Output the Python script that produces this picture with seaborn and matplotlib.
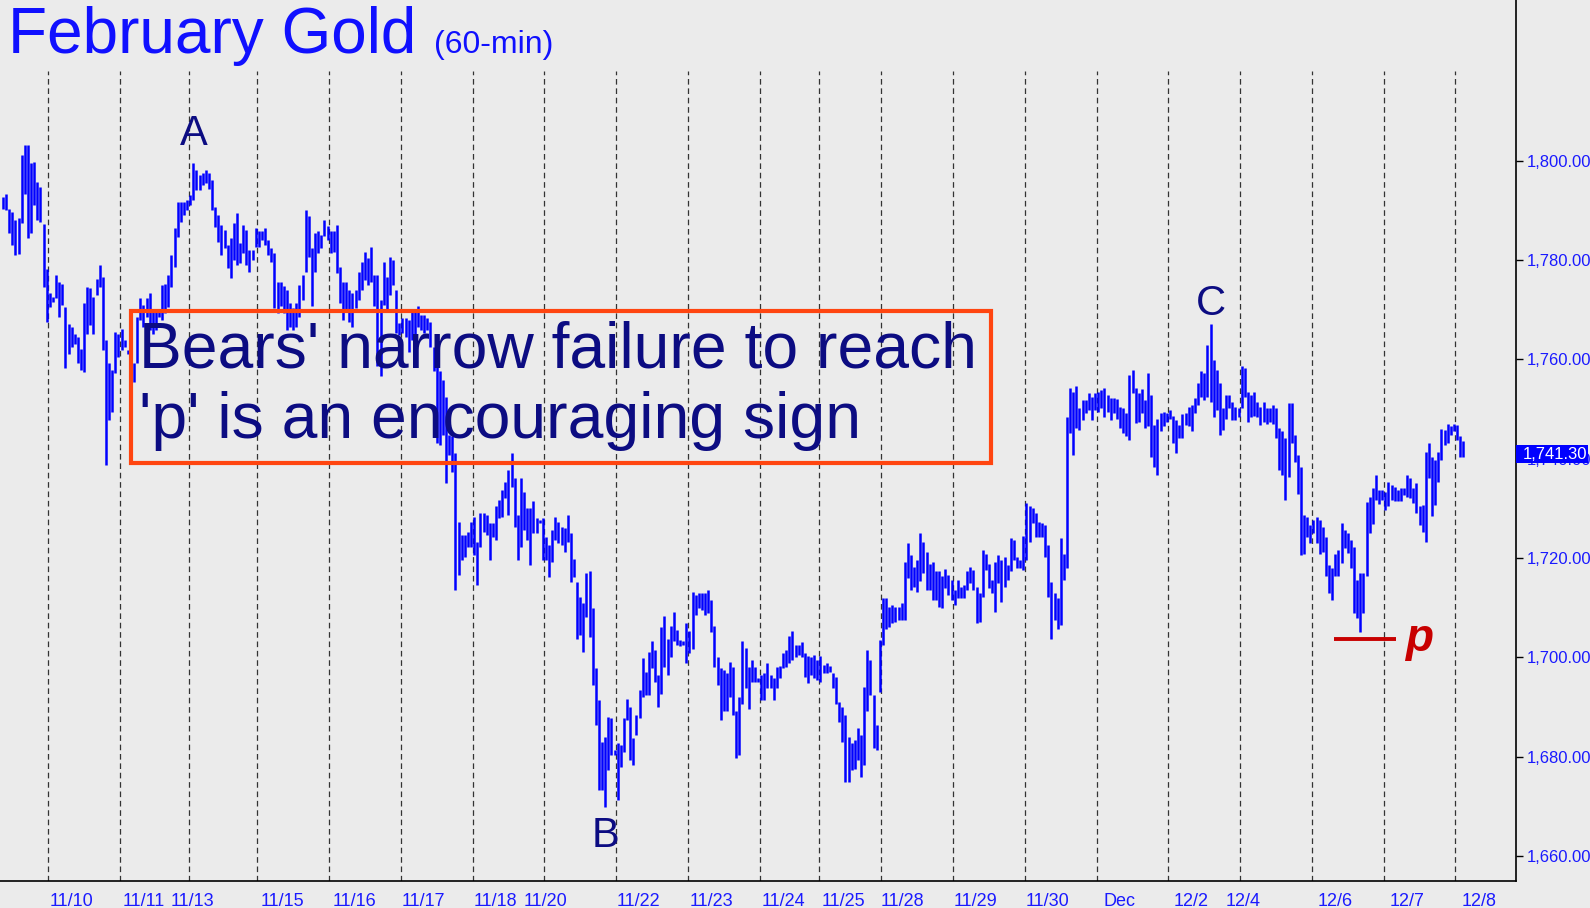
import matplotlib
matplotlib.use("Agg")
import matplotlib.pyplot as plt
import matplotlib.ticker as mticker
from matplotlib.patches import Rectangle
import matplotlib.transforms as mtrans
import numpy as np
import pandas as pd
import seaborn as sb

# hourly bars, February gold (high / low per bar)
bar_high = [
    1792.8, 1793.3, 1790.4, 1789.7, 1788.1, 1788.4, 1801.2, 1803.2, 1803.2, 1799.5,
    1799.8, 1795.8, 1794.8, 1787.2, 1778.3, 1773.3, 1772.6, 1777.0, 1775.6, 1775.3,
    1770.6, 1767.2, 1766.6, 1765.2, 1764.6, 1762.2, 1771.3, 1774.6, 1774.3, 1772.6,
    1776.3, 1779.1, 1776.7, 1763.9, 1759.2, 1757.8, 1765.6, 1765.2, 1766.2, 1763.9,
    1761.9, 1761.9, 1759.2, 1768.6, 1772.3, 1771.0, 1772.3, 1773.3, 1769.9, 1769.9,
    1769.9, 1775.0, 1775.3, 1777.0, 1781.0, 1786.4, 1791.8, 1791.8, 1791.8, 1792.1,
    1793.1, 1799.5, 1798.1, 1797.1, 1797.5, 1798.1, 1797.5, 1796.1, 1790.8, 1789.1,
    # 11/15 - 11/17
    1787.1, 1786.1, 1783.1, 1784.4, 1787.4, 1789.4, 1783.4, 1787.1, 1786.1, 1782.1,
    1782.1, 1786.4, 1785.8, 1785.8, 1786.4, 1784.1, 1782.4, 1781.4, 1775.7, 1775.7,
    1774.7, 1774.0, 1771.3, 1770.3, 1771.3, 1775.0, 1777.0, 1790.1, 1788.8, 1782.4,
    1785.4, 1785.8, 1785.1, 1788.1, 1786.8, 1785.8, 1785.8, 1787.1, 1778.7, 1775.7,
    1775.7, 1774.0, 1773.3, 1774.0, 1777.7, 1779.7, 1781.7, 1780.4, 1782.7, 1777.0,
    1777.0, 1772.0, 1779.7, 1776.7, 1780.7, 1780.1, 1774.0, 1767.3, 1768.3, 1768.3,
    1767.9, 1770.0, 1770.0, 1770.7, 1769.0, 1769.0, 1768.3, 1767.6, 1762.6, 1758.6,
    1757.6, 1755.9, 1752.5,
    # 11/18 - 11/22
    1744.8, 1744.5, 1741.1, 1727.3, 1724.7, 1724.7, 1725.3, 1727.3, 1728.3, 1723.3,
    1729.0, 1729.0, 1728.7, 1727.0, 1727.0, 1730.4, 1731.7, 1733.7, 1735.4, 1737.8,
    1741.1, 1736.1, 1728.7, 1736.1, 1733.4, 1730.0, 1730.0, 1731.4, 1728.0, 1727.7,
    1728.0, 1724.3, 1722.6, 1725.7, 1728.3, 1727.3, 1726.3, 1726.0, 1728.7, 1725.0,
    1719.9, 1715.2, 1712.2, 1710.9, 1716.9, 1717.3, 1709.9, 1697.8, 1691.4, 1683.0,
    1684.0, 1688.0, 1687.7, 1681.3, 1682.7, 1682.3, 1687.7, 1691.7, 1690.1, 1683.7,
    1688.4, 1693.4, 1699.8, 1697.1, 1701.1, 1703.2, 1701.5,
    # 11/22 - 11/25
    1696.4, 1706.2, 1708.3, 1703.8, 1706.3, 1709.2, 1705.5, 1703.5, 1703.2, 1706.9,
    1705.4, 1713.2, 1712.6, 1712.9, 1712.9, 1712.9, 1713.6, 1711.6, 1706.3, 1700.1,
    1697.8, 1697.5, 1696.8, 1699.1, 1698.1, 1689.1, 1692.1, 1703.3, 1701.8, 1698.1,
    1699.5, 1698.1, 1695.8, 1696.4, 1696.8, 1698.8, 1696.4, 1695.8, 1698.1, 1698.3,
    1700.9, 1701.5, 1704.3, 1705.3, 1702.5, 1702.5, 1703.0, 1700.8, 1700.2, 1700.1,
    1700.5, 1699.5, 1700.3, 1698.5, 1698.8, 1698.3, 1696.8, 1696.1, 1691.1, 1690.1,
    1688.4, 1684.0, 1682.7, 1683.4, 1685.7, 1684.3, 1694.1, 1701.5, 1699.5, 1692.4,
    1686.4,
    # 11/28 - 11/30
    1703.5, 1711.9, 1711.9, 1710.2, 1710.5, 1710.2, 1710.2, 1710.9, 1719.3, 1723.0,
    1720.6, 1718.3, 1719.6, 1725.0, 1723.3, 1721.3, 1718.9, 1719.3, 1717.3, 1717.3,
    1716.3, 1717.7, 1716.6, 1715.6, 1713.6, 1715.6, 1714.2, 1714.6, 1717.3, 1718.3,
    1717.6, 1714.2, 1712.9, 1721.6, 1720.9, 1718.8, 1715.6, 1719.3, 1720.6, 1719.6,
    1720.3, 1718.6, 1724.0, 1723.6, 1720.3, 1719.6, 1724.4, 1731.0, 1730.4, 1730.0,
    1729.0, 1727.3, 1727.0, 1726.7, 1722.6, 1715.2, 1712.9, 1711.9, 1724.0, 1720.9,
    1748.5, 1754.2, 1753.5, 1754.7, 1750.2, 1751.8, 1751.8, 1753.2, 1752.5, 1753.2,
    1753.5,
    # Dec - 12/4
    1753.9, 1754.2, 1752.9, 1752.2, 1752.2, 1752.0, 1750.5, 1750.2, 1749.2, 1756.9,
    1757.9, 1754.2, 1753.2, 1754.0, 1751.8, 1757.2, 1752.8, 1746.8, 1748.1, 1749.2,
    1749.5, 1749.2, 1749.8, 1748.6, 1747.8, 1746.8, 1749.0, 1749.2, 1750.5, 1750.8,
    1752.2, 1755.2, 1757.6, 1757.2, 1762.9, 1767.2, 1759.9, 1757.9, 1755.2, 1750.2,
    1752.8, 1752.8, 1751.5, 1750.5, 1750.2, 1758.6, 1758.2, 1753.5, 1752.8, 1753.5,
    1751.5, 1750.5, 1751.5, 1750.2, 1750.2, 1750.8, 1750.2, 1746.1, 1745.5, 1744.1,
    1751.2, 1751.2, 1744.8, 1740.8, 1738.4, 1728.7, 1728.3, 1726.7, 1727.7, 1728.3,
    1727.7,
    # 12/6 - 12/8
    1726.3, 1724.3, 1718.6, 1718.0, 1720.9, 1721.6, 1727.0, 1725.6, 1725.0, 1723.6,
    1722.3, 1715.6, 1716.9, 1716.9, 1731.3, 1732.4, 1734.1, 1736.7, 1733.7, 1733.7,
    1733.4, 1735.4, 1734.7, 1734.4, 1733.7, 1734.1, 1734.1, 1736.7, 1736.1, 1734.1,
    1735.1, 1730.4, 1730.7, 1741.4, 1743.1, 1740.4, 1739.8, 1741.4, 1745.9, 1745.8,
    1747.0, 1746.6, 1747.0, 1746.8, 1744.5, 1743.5,
]
bar_low = [
    1790.4, 1790.1, 1785.4, 1783.0, 1781.0, 1781.3, 1787.4, 1793.4, 1784.4, 1785.4,
    1791.1, 1788.1, 1787.7, 1774.6, 1767.6, 1770.6, 1771.6, 1772.3, 1768.6, 1770.9,
    1758.2, 1761.2, 1762.6, 1763.2, 1759.2, 1757.8, 1757.5, 1765.2, 1766.9, 1765.2,
    1773.0, 1774.6, 1761.9, 1738.7, 1747.8, 1749.5, 1757.2, 1760.5, 1761.9, 1762.6,
    1761.2, 1747.8, 1755.5, 1759.2, 1767.9, 1766.6, 1768.6, 1765.9, 1765.2, 1765.9,
    1768.6, 1767.9, 1769.3, 1770.6, 1774.6, 1778.7, 1784.7, 1787.7, 1789.1, 1790.1,
    1791.1, 1792.1, 1794.1, 1794.1, 1795.1, 1795.5, 1794.4, 1790.1, 1786.7, 1783.7,
    # 11/15 - 11/17
    1781.1, 1782.4, 1778.4, 1776.4, 1780.1, 1779.1, 1779.4, 1781.4, 1779.1, 1777.7,
    1780.1, 1782.7, 1782.7, 1784.1, 1783.1, 1781.1, 1779.7, 1770.3, 1769.3, 1770.7,
    1769.3, 1766.0, 1766.6, 1765.9, 1766.6, 1768.6, 1772.0, 1777.7, 1780.7, 1770.7,
    1777.7, 1781.4, 1782.4, 1784.8, 1784.1, 1781.4, 1781.7, 1777.4, 1771.3, 1768.0,
    1769.6, 1767.6, 1766.6, 1770.3, 1772.0, 1774.0, 1776.0, 1775.0, 1775.7, 1770.7,
    1758.6, 1756.6, 1771.0, 1770.0, 1773.0, 1775.0, 1765.3, 1764.9, 1765.3, 1764.6,
    1761.6, 1764.0, 1764.6, 1766.6, 1765.9, 1765.3, 1765.9, 1762.6, 1757.6, 1743.1,
    1742.8, 1744.8, 1735.1,
    # 11/18 - 11/22
    1740.8, 1737.4, 1713.6, 1716.6, 1719.6, 1720.3, 1722.3, 1722.3, 1720.6, 1714.6,
    1722.3, 1725.3, 1724.7, 1719.6, 1724.3, 1723.6, 1728.0, 1728.3, 1732.0, 1728.7,
    1734.4, 1726.3, 1719.6, 1722.3, 1725.7, 1723.6, 1718.6, 1725.0, 1725.0, 1727.0,
    1719.6, 1719.6, 1716.2, 1719.3, 1723.6, 1723.0, 1722.6, 1721.3, 1723.3, 1715.2,
    1716.2, 1703.8, 1704.5, 1701.1, 1708.2, 1704.2, 1694.4, 1686.4, 1673.3, 1673.3,
    1669.9, 1677.3, 1680.3, 1680.3, 1671.2, 1678.0, 1681.0, 1687.4, 1679.3, 1678.3,
    1684.4, 1687.7, 1692.1, 1692.4, 1692.4, 1697.8, 1695.1,
    # 11/22 - 11/25
    1690.1, 1692.7, 1698.1, 1696.4, 1700.1, 1703.2, 1702.5, 1702.2, 1702.5, 1698.8,
    1700.9, 1701.6, 1708.5, 1709.9, 1709.5, 1708.5, 1708.9, 1705.2, 1698.1, 1694.4,
    1687.4, 1689.1, 1689.1, 1692.1, 1688.4, 1679.7, 1680.3, 1690.7, 1693.8, 1689.7,
    1695.1, 1695.1, 1695.1, 1691.4, 1691.4, 1693.8, 1693.8, 1691.4, 1693.8, 1695.8,
    1697.8, 1698.1, 1698.8, 1699.5, 1700.1, 1700.5, 1700.1, 1696.1, 1694.8, 1696.4,
    1695.8, 1695.4, 1695.1, 1696.8, 1696.8, 1697.1, 1693.8, 1690.7, 1687.0, 1683.0,
    1675.0, 1674.8, 1677.3, 1677.6, 1679.3, 1676.0, 1678.3, 1689.1, 1692.4, 1681.7,
    1681.3,
    # 11/28 - 11/30
    1693.0, 1702.5, 1705.8, 1706.2, 1706.9, 1707.2, 1707.5, 1707.5, 1707.5, 1715.9,
    1713.6, 1714.2, 1713.2, 1715.3, 1716.9, 1713.6, 1713.6, 1711.6, 1711.6, 1710.2,
    1709.9, 1713.9, 1712.6, 1711.6, 1710.5, 1711.9, 1711.9, 1711.9, 1713.6, 1714.9,
    1713.6, 1706.9, 1707.2, 1712.2, 1717.6, 1713.9, 1712.9, 1709.2, 1714.9, 1711.2,
    1714.2, 1715.6, 1717.3, 1719.6, 1717.9, 1717.9, 1717.6, 1719.6, 1723.3, 1727.0,
    1724.3, 1724.3, 1724.3, 1720.3, 1712.2, 1703.8, 1707.5, 1705.8, 1706.5, 1715.6,
    1718.0, 1745.1, 1740.8, 1746.1, 1745.8, 1747.8, 1749.2, 1749.8, 1747.8, 1749.8,
    1749.5,
    # Dec - 12/4
    1750.2, 1748.5, 1749.5, 1747.8, 1749.2, 1748.1, 1746.1, 1745.1, 1744.5, 1743.8,
    1753.2, 1747.3, 1747.5, 1749.2, 1746.1, 1746.5, 1740.4, 1738.4, 1736.7, 1745.5,
    1746.5, 1747.5, 1748.1, 1743.1, 1741.2, 1744.1, 1744.1, 1746.8, 1746.5, 1745.5,
    1749.2, 1750.8, 1752.5, 1751.8, 1752.5, 1751.5, 1748.5, 1749.8, 1744.8, 1745.8,
    1748.1, 1750.2, 1747.8, 1747.8, 1748.5, 1750.2, 1752.5, 1747.5, 1748.5, 1748.6,
    1748.5, 1746.8, 1747.5, 1747.1, 1747.5, 1747.1, 1744.1, 1737.7, 1736.7, 1731.7,
    1736.4, 1743.1, 1739.4, 1733.0, 1720.6, 1720.9, 1724.3, 1723.0, 1725.0, 1723.0,
    1720.9,
    # 12/6 - 12/8
    1721.3, 1716.3, 1712.9, 1711.6, 1716.3, 1716.3, 1719.0, 1722.0, 1721.0, 1717.9,
    1708.9, 1707.9, 1705.2, 1708.9, 1716.3, 1725.0, 1726.9, 1731.7, 1730.9, 1731.7,
    1729.7, 1730.4, 1731.7, 1731.4, 1731.4, 1731.4, 1732.7, 1732.4, 1732.0, 1731.0,
    1729.0, 1726.7, 1725.3, 1723.3, 1736.1, 1728.4, 1730.7, 1735.4, 1739.8, 1742.8,
    1743.1, 1744.8, 1745.5, 1743.8, 1740.4, 1740.4,
]
last_price = 1741.30
p_level = 1703.7

# bars per trading session (dashed separators between sessions)
session_bars = [15, 23, 22, 22, 23, 23, 23, 23, 23, 23, 23, 19, 20,
                23, 23, 23, 23, 23, 23, 23, 23, 3]

date_labels = ["11/10", "11/11", "11/13", "11/15", "11/16", "11/17", "11/18",
               "11/20", "11/22", "11/23", "11/24", "11/25", "11/28", "11/29",
               "11/30", "Dec", "12/2", "12/4", "12/6", "12/7", "12/8"]
date_pos = [22.1, 45.2, 60.6, 89.7, 112.8, 134.6, 157.7, 174.0, 203.8, 226.9,
            250.0, 269.4, 288.4, 311.6, 334.8, 357.9, 380.9, 397.3, 427.0,
            450.1, 473.2]
extra_ticks = [67.3, 180.8, 404.0]

price_ticks = [1660, 1680, 1700, 1720, 1740, 1760, 1780, 1800]

df = pd.DataFrame({"high": bar_high, "low": bar_low})
df["bar"] = np.arange(len(df))

sb.set_theme(style="white")
plt.rcParams["font.family"] = ["Liberation Sans", "DejaVu Sans"]

bg = "#ebebeb"
blue = "#0000ff"
navy = "#0c0c82"
red = "#c80000"

fig = plt.figure(figsize=(15.9, 9.08), dpi=100, facecolor=bg)
ax = fig.add_axes([0, 27 / 908, 1516 / 1590, 881 / 908])
ax.set_facecolor(bg)

ax.set_xlim(-0.96, 484.9)
ax.set_ylim(1654.96, 1832.4)

# session separators
seps = np.cumsum(session_bars)[:-1] - 0.5
ax.vlines(seps, 1654.96, 1818, colors="#333333", linewidth=0.9,
          linestyles=(0, (4.5, 3)), zorder=1)

# price bars
ax.vlines(df["bar"], df["low"], df["high"], colors=blue, linewidth=1.8, zorder=3)

# axes styling
for s in ["top", "left"]:
    ax.spines[s].set_visible(False)
for s in ["right", "bottom"]:
    ax.spines[s].set_color("black")
    ax.spines[s].set_linewidth(1.2)

ax.yaxis.tick_right()
ax.set_yticks(price_ticks)
ax.yaxis.set_major_formatter(mticker.StrMethodFormatter("{x:,.2f}"))
ax.tick_params(axis="y", which="major", direction="out", length=5, width=1,
               color="black", labelcolor="#1a1aff", labelsize=12, pad=3)

ax.set_xticks(date_pos)
ax.set_xticklabels(date_labels)
ax.set_xticks(extra_ticks, minor=True)
ax.tick_params(axis="x", which="both", direction="out", length=8, width=1,
               color="black", labelcolor="#1a1aff", labelsize=13, pad=1)

# last price marker
trans = mtrans.blended_transform_factory(ax.transAxes, ax.transData)
ax.add_patch(Rectangle((1.0, last_price - 2.2), 72 / 1516, 3.6, transform=trans,
                       facecolor=blue, edgecolor="none", clip_on=False, zorder=5))
ax.text(1.0 + 7 / 1516, last_price - 0.4, f"{last_price:,.2f}", transform=trans,
        color="white", fontsize=12, va="center", ha="left", zorder=6)

# wave labels
ax.text(61, 1805.4, "A", fontsize=30, color=navy, ha="center", va="center")
ax.text(193, 1664.0, "B", fontsize=30, color=navy, ha="center", va="center")
ax.text(387, 1771.2, "C", fontsize=30, color=navy, ha="center", va="center")

# 'p' target
ax.hlines(p_level, 426.6, 446.5, colors=red, linewidth=2.8, zorder=4)
ax.text(449.4, 1701.2, "p", fontsize=33, color=red, fontweight="bold",
        fontstyle="italic", va="baseline", ha="left")

# title
fig.text(8 / 1590, 1 - 53 / 908, "February Gold", fontsize=46, color="#1010ff",
         va="baseline", ha="left")
fig.text(434 / 1590, 1 - 53 / 908, "(60-min)", fontsize=23, color="#1010ff",
         va="baseline", ha="left")

# comment box
fig.patches.append(Rectangle((131 / 1590, 1 - 463 / 908), 860 / 1590, 152 / 908,
                             transform=fig.transFigure, fill=False,
                             edgecolor="#ff4510", linewidth=3.0, zorder=10))
fig.text(139 / 1590, 1 - 367 / 908, "Bears' narrow failure to reach",
         fontsize=46.3, color=navy, va="baseline", ha="left", zorder=11)
fig.text(139 / 1590, 1 - 438 / 908, "'p' is an encouraging sign",
         fontsize=46.3, color=navy, va="baseline", ha="left", zorder=11)

fig.savefig("out.png", dpi=100, facecolor=bg)
